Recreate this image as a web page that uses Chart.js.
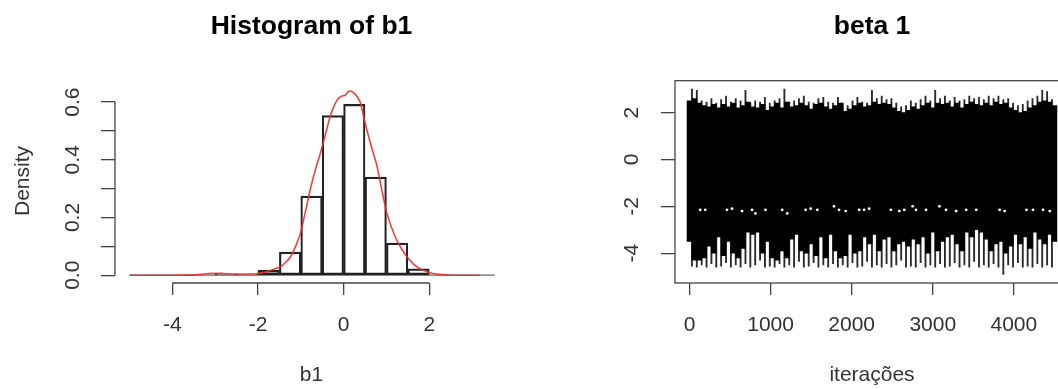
<!DOCTYPE html>
<html>
<head>
<meta charset="utf-8">
<title>b1 / beta 1</title>
<script src="https://cdn.jsdelivr.net/npm/chart.js@4.4.1/dist/chart.umd.min.js"></script>
<style>
    html, body { margin: 0; padding: 0; background: #fff; width: 1058px; height: 389px; overflow: hidden; }
    canvas { position: absolute; top: 0; }
    #histChart { left: 0; }
    #traceChart { left: 560px; }
</style>
</head>
<body>
<canvas id="histChart" width="623" height="389"></canvas>
<canvas id="traceChart" width="624" height="389"></canvas>
<script>
// ---- Histogram of b1 ----
const binLefts = [-3.0, -2.5, -2.0, -1.5, -1.0, -0.5, 0.0, 0.5, 1.0, 1.5];
const binWidth = 0.5;
const binDensity = [0.004, 0.002, 0.017, 0.080, 0.274, 0.553, 0.592, 0.340, 0.111, 0.022];

// kernel density (red curve)
const densX = [-5.0, -4.0, -3.5, -3.2, -3.0, -2.8, -2.5, -2.2, -2.0, -1.8, -1.6, -1.47, -1.35, -1.24,
    -1.12, -1.01, -0.9, -0.78, -0.66, -0.54, -0.42, -0.31, -0.16, -0.05, 0.05, 0.1, 0.16, 0.25, 0.39,
    0.46, 0.54, 0.66, 0.78, 0.9, 1.01, 1.12, 1.24, 1.36, 1.48, 1.62, 1.78, 1.95, 2.09, 2.3, 2.6, 3.18];
const densY = [0, 0, 0.001, 0.005, 0.007, 0.006, 0.004, 0.004, 0.006, 0.012, 0.022, 0.030, 0.045, 0.064,
    0.100, 0.145, 0.215, 0.296, 0.365, 0.424, 0.490, 0.552, 0.605, 0.620, 0.625, 0.635, 0.638, 0.630, 0.599,
    0.555, 0.506, 0.440, 0.378, 0.290, 0.215, 0.165, 0.122, 0.090, 0.064, 0.040, 0.023, 0.012, 0.006, 0.002, 0, 0];
const baseX = [-5.0, 3.53];

const histXTicks = [-4, -2, 0, 2];
const histYTicks = [0, 0.1, 0.2, 0.3, 0.4, 0.5, 0.6];
const histYLabels = ['0.0', '', '0.2', '', '0.4', '', '0.6'];

// ---- trace of beta 1 (envelope of the chain, read every 60 iterations) ----
const traceStep = 60;
const traceHigh = [
    2.5, 2.6, 2.4, 2.3, 2.25, 2.35, 2.2, 2.35, 2.25, 2.4,
    2.2, 2.3, 2.45, 2.25, 2.2, 2.35, 2.1, 2.25, 2.4, 2.2,
    2.45, 2.25, 2.3, 2.4, 2.3, 2.15, 2.35, 2.4, 2.25, 2.15,
    2.3, 2.4, 2.05, 2.15, 2.3, 2.4, 2.25, 2.3, 2.45, 2.35,
    2.4, 2.35, 2.2, 2.05, 2.0, 2.1, 2.25, 2.15, 2.3, 2.4,
    2.2, 2.4, 2.35, 2.4, 2.25, 2.4, 2.2, 2.35, 2.45, 2.35,
    2.3, 2.4, 2.3, 2.45, 2.35, 2.4, 2.2, 2.1, 2.0, 2.05,
    2.2, 2.3, 2.45, 2.5, 2.45, 2.3];
const traceLow = [
    -3.5, -4.3, -4.3, -4.2, -3.7, -4.0, -3.3, -4.1, -3.5, -4.0,
    -4.2, -3.8, -3.1, -3.2, -3.1, -4.0, -3.5, -4.2, -4.3, -3.9,
    -4.2, -3.4, -3.2, -3.9, -4.0, -3.6, -4.1, -3.3, -4.2, -3.2,
    -3.9, -4.2, -4.1, -3.2, -4.0, -3.9, -3.3, -3.6, -3.2, -3.9,
    -3.4, -3.3, -3.9, -3.6, -3.5, -3.7, -3.4, -3.6, -3.3, -4.0,
    -3.1, -3.9, -3.5, -3.3, -3.2, -3.6, -3.9, -3.1, -3.3, -3.0,
    -3.1, -3.4, -3.9, -3.6, -3.5, -4.0, -3.7, -3.2, -3.6, -3.3,
    -3.8, -3.1, -3.4, -3.6, -3.2, -3.5];
// single draws between the envelope points (half a step later)
const spikeHigh = [
    3.0, 2.95, 2.5, 2.45, 2.6, 2.4, 2.55, 2.7, 2.45, 2.6,
    2.5, 2.95, 2.4, 2.5, 2.45, 2.65, 2.4, 2.5, 2.6, 3.0,
    2.45, 2.5, 2.6, 2.7, 2.45, 2.4, 2.6, 2.65, 2.45, 2.4,
    2.65, 2.4, 2.3, 2.5, 2.65, 2.45, 2.4, 2.95, 2.6, 2.7,
    2.55, 2.6, 2.4, 2.25, 2.3, 2.5, 2.4, 2.55, 2.7, 2.5,
    2.95, 2.6, 2.7, 2.5, 2.65, 2.5, 2.55, 2.7, 2.6, 2.65,
    2.55, 2.7, 2.6, 2.7, 2.55, 2.6, 2.4, 2.3, 2.35, 2.5,
    2.6, 2.7, 2.95, 2.9, 2.55];
const spikeLow = [
    -4.55, -4.6, -4.5, -4.6, -4.45, -4.6, -4.55, -4.4, -4.6, -4.5,
    -4.6, -4.45, -4.6, -4.5, -4.3, -4.6, -4.55, -4.6, -4.45, -4.6,
    -4.5, -4.6, -4.35, -4.6, -4.55, -4.4, -4.6, -4.5, -4.6, -4.45,
    -4.6, -4.5, -4.6, -4.4, -4.6, -4.55, -4.35, -4.6, -4.5, -4.6,
    -4.45, -4.6, -4.5, -4.3, -4.6, -4.55, -4.6, -4.4, -4.6, -4.5,
    -4.6, -4.45, -4.6, -4.55, -4.4, -4.6, -4.5, -4.6, -4.35, -4.6,
    -4.5, -4.6, -4.45, -4.6, -4.9, -4.5, -4.6, -4.4, -4.6, -4.55,
    -4.6, -4.45, -4.6, -4.5, -4.6];
// the white specks near -2
const gapIters = [132, 194, 462, 524, 648, 771, 813, 937, 1143, 1205, 1432, 1494, 1576, 1782, 1844, 1927,
    2092, 2153, 2215, 2483, 2587, 2649, 2752, 2793, 2917, 3082, 3164, 3288, 3412, 3536, 3824, 3886,
    4155, 4236, 4360, 4443];
const gapLevels = [-2.15, -2.15, -2.15, -2.1, -2.2, -2.15, -2.3, -2.15, -2.15, -2.3, -2.15, -2.1, -2.15,
    -2.0, -2.15, -2.2, -2.15, -2.15, -2.1, -2.15, -2.2, -2.15, -2.0, -2.15, -2.15, -2.0, -2.15, -2.2,
    -2.15, -2.15, -2.15, -2.2, -2.15, -2.15, -2.15, -2.2];

const traceXTicks = [0, 1000, 2000, 3000, 4000];
const traceYTicks = [-4, -2, 0, 2];

Chart.defaults.font.family = '"Liberation Sans", Arial, sans-serif';
Chart.defaults.color = '#333';

// R style axes: the axis line only runs from the first to the last tick
const rAxes = {
    id: 'rAxes',
    afterDraw(chart, args, opts) {
        const { ctx, chartArea: a, scales: { x, y } } = chart;
        ctx.save();
        ctx.strokeStyle = '#444';
        ctx.lineWidth = 1.3;
        if (opts.box) {
            ctx.strokeRect(a.left, a.top, a.right - a.left, a.bottom - a.top);
        } else {
            const xt = x.ticks, yt = y.ticks;
            ctx.beginPath();
            ctx.moveTo(x.getPixelForValue(xt[0].value), a.bottom);
            ctx.lineTo(x.getPixelForValue(xt[xt.length - 1].value), a.bottom);
            ctx.moveTo(a.left, y.getPixelForValue(yt[0].value));
            ctx.lineTo(a.left, y.getPixelForValue(yt[yt.length - 1].value));
            ctx.stroke();
        }
        ctx.restore();
    }
};

function axisOptions(extra) {
    return Object.assign({
        type: 'linear',
        offset: false,
        border: { display: false }
    }, extra);
}

// empty right margin the same width as the left axis, so the title centres over the plot
function spacerAxis(min, max) {
    return {
        type: 'linear', position: 'right', min: min, max: max,
        grid: { display: false, drawTicks: false }, border: { display: false },
        ticks: { display: false },
        afterFit: s => { s.width = 115; }
    };
}

function titleOptions(text, below) {
    return {
        display: true,
        text: text,
        color: '#000',
        font: { size: 26.5, weight: 'bold' },
        padding: { top: 11, bottom: below }
    };
}

const tickGrid = len => ({
    display: true, offset: false, drawOnChartArea: false, drawTicks: true,
    color: '#444', lineWidth: 1.3, tickLength: len
});

// ---- left: histogram ----
new Chart(document.getElementById('histChart'), {
    type: 'bar',
    data: {
        datasets: [{
            type: 'line',
            data: densX.map((x, i) => ({ x: x, y: densY[i] })),
            borderColor: 'rgba(238, 45, 45, 0.9)',
            borderWidth: 1.6,
            pointRadius: 0,
            cubicInterpolationMode: 'monotone',
            order: 0
        }, {
            data: binLefts.map((x, i) => ({ x: x + binWidth / 2, y: binDensity[i] })),
            backgroundColor: 'rgba(255,255,255,0)',
            borderColor: '#222',
            borderWidth: 1.5,
            borderSkipped: false,
            barPercentage: 1,
            categoryPercentage: 1,
            order: 1
        }, {
            type: 'line',
            data: baseX.map(x => ({ x: x, y: 0 })),
            borderColor: '#666',
            borderWidth: 1.3,
            pointRadius: 0,
            order: 2
        }]
    },
    options: {
        responsive: false,
        animation: false,
        events: [],
        layout: { padding: 0 },
        plugins: {
            legend: { display: false },
            tooltip: { enabled: false },
            title: titleOptions('Histogram of b1', 36.2),
            rAxes: { box: false }
        },
        scales: {
            x: axisOptions({
                min: -5.34, max: 3.84,
                afterBuildTicks: s => { s.ticks = histXTicks.map(v => ({ value: v })); },
                afterFit: s => { s.height = 106; },
                grid: tickGrid(12),
                ticks: { font: { size: 21 }, color: '#333', padding: 18, maxRotation: 0, callback: v => String(v) },
                title: { display: true, text: 'b1', font: { size: 21 }, color: '#333', padding: { top: 0, bottom: 1.4 } }
            }),
            y: axisOptions({
                min: -0.027, max: 0.68,
                afterBuildTicks: s => { s.ticks = histYTicks.map(v => ({ value: v })); },
                afterFit: s => { s.width = 115; },
                grid: tickGrid(14),
                ticks: {
                    font: { size: 21 }, color: '#333', padding: 13.4,
                    minRotation: 90, maxRotation: 90, crossAlign: 'center',
                    callback: (v, i) => histYLabels[i]
                },
                title: { display: true, text: 'Density', font: { size: 21 }, color: '#333', padding: { top: 10.4, bottom: 0 } }
            }),
            y2: spacerAxis(-0.027, 0.68)
        }
    },
    plugins: [rAxes]
});

// ---- right: trace plot ----
new Chart(document.getElementById('traceChart'), {
    type: 'bar',
    data: {
        datasets: [{
            type: 'line',
            data: gapIters.map((it, i) => ({ x: it, y: gapLevels[i] })),
            showLine: false,
            pointRadius: 1.4,
            pointBorderWidth: 0,
            pointBackgroundColor: '#fff',
            order: 0
        }, {
            data: traceHigh.map((h, k) => ({ x: k * traceStep, y: [traceLow[k], h] })),
            backgroundColor: '#000',
            borderWidth: 0,
            barThickness: 5,
            grouped: false,
            order: 1
        }, {
            data: spikeHigh.map((h, k) => ({ x: k * traceStep + traceStep / 2, y: [spikeLow[k], h] })),
            backgroundColor: '#2a2a2a',
            borderWidth: 0,
            barThickness: 1.2,
            grouped: false,
            order: 2
        }]
    },
    options: {
        responsive: false,
        animation: false,
        events: [],
        layout: { padding: 0 },
        plugins: {
            legend: { display: false },
            tooltip: { enabled: false },
            title: titleOptions('beta 1', 37.9),
            rAxes: { box: true }
        },
        scales: {
            x: axisOptions({
                min: -179, max: 4680,
                afterBuildTicks: s => { s.ticks = traceXTicks.map(v => ({ value: v })); },
                afterFit: s => { s.height = 106; },
                grid: tickGrid(12),
                ticks: { font: { size: 21 }, color: '#333', padding: 18, maxRotation: 0, callback: v => String(v) },
                title: { display: true, text: 'iterações', font: { size: 21 }, color: '#333', padding: { top: 0, bottom: 1.4 } }
            }),
            y: axisOptions({
                min: -5.27, max: 3.36,
                afterBuildTicks: s => { s.ticks = traceYTicks.map(v => ({ value: v })); },
                afterFit: s => { s.width = 115; },
                grid: tickGrid(14),
                ticks: {
                    font: { size: 21 }, color: '#333', padding: 19.7,
                    minRotation: 90, maxRotation: 90, crossAlign: 'center',
                    callback: v => String(v)
                }
            }),
            y2: spacerAxis(-5.27, 3.36)
        }
    },
    plugins: [rAxes]
});
</script>
</body>
</html>
